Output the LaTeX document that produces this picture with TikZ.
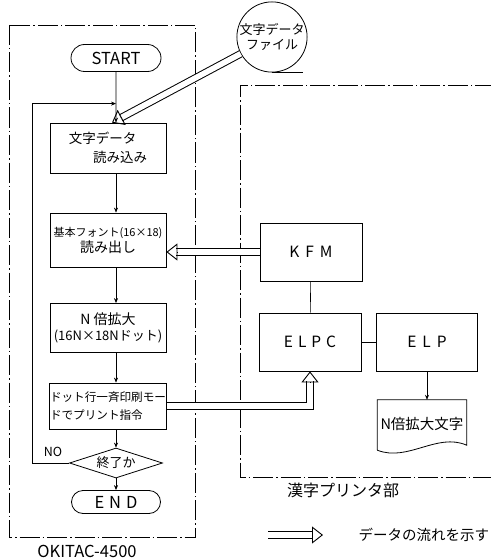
\documentclass[tikz,border=0pt]{standalone}
\usepackage{fontspec}
\setmainfont{Noto Sans CJK JP}
\usetikzlibrary{arrows.meta,positioning,shapes.geometric,shapes.misc,calc}

\begin{document}
\begin{tikzpicture}[x=1pt,y=-1pt,
  font=\fontsize{12.5}{16}\selectfont,
  proc/.style={draw,line width=0.8pt,minimum width=116pt,inner sep=2pt},
  unit/.style={draw,line width=0.8pt,minimum width=102pt,minimum height=58pt,
    font=\fontsize{15.5}{18}\selectfont},
  term/.style={draw,line width=0.8pt,rounded rectangle,inner sep=2pt,
    font=\fontsize{16.5}{18}\selectfont},
  frame/.style={line width=0.6pt,dash pattern=on 20pt off 3pt on 1.5pt off 3pt},
  arr/.style={-{Stealth[length=5pt,width=4pt]},line width=0.6pt},
  conn/.style={line width=0.6pt},
  flow/.style={line width=7.6pt,shorten >=10pt,
    postaction={draw=white,line width=5.6pt,shorten >=10pt}},
  head/.style={-{Triangle[open,length=11pt,width=17pt]},line width=0.9pt}
]
\useasboundingbox (0,0) rectangle (490,559);
% frames
\draw[frame] (9,25) rectangle (195,537);
\draw[frame] (495,85) -- (240,85) -- (240,477) -- (495,477);
\node (okitac) at (87,551) {\fontsize{16.5}{18}\selectfont OKITAC-4500};
\node (kanji) at (343,490) {\fontsize{16}{18}\selectfont 漢字プリンタ部};
% flowchart
\node[term,minimum width=94pt,minimum height=27pt] (start) at (116,58) {START};
\node[proc,minimum height=50pt,align=left,font=\fontsize{13.5}{19}\selectfont] (b1) at (108,148)
  {文字データ\\\hspace{1.8em}読み込み};
\node[proc,minimum height=54pt,align=center] (b2) at (108,240)
  {\fontsize{11}{18}\selectfont 基本フォント(16×18)\\\fontsize{14}{18}\selectfont 読み出し};
\node[proc,minimum height=49pt,align=center] (b3) at (108,328)
  {\fontsize{14}{18}\selectfont N 倍拡大\\\fontsize{13}{18}\selectfont(16N×18Nドット)};
\node[proc,minimum height=46pt,align=left,inner sep=0.5pt,
  font=\fontsize{11.6}{18}\selectfont] (b4) at (108,406)
  {ドット行一斉印刷モー\\ドでプリント指令};
\node[draw,diamond,line width=0.8pt,minimum width=93pt,minimum height=30pt,
  inner sep=0pt,aspect=3,font=\fontsize{13}{16}\selectfont] (dec) at (116,463) {終了か};
\node[term,minimum width=93pt,minimum height=23pt] (end) at (116,502) {E\hspace{5pt}N\hspace{5pt}D};
\node (no) at (53,452) {NO};
\draw[arr] (start) -- (start |- b1.north);
\draw[arr] (b1.south -| start) -- (b2.north -| start);
\draw[arr] (b2.south -| start) -- (b3.north -| start);
\draw[arr] (b3.south -| start) -- (b4.north -| start);
\draw[arr] (b4.south -| start) -- (dec.north);
\draw[arr] (dec.south) -- (end.north);
\draw[arr] (dec.west) -- ++(-37,0) |- ($(b1.north -| start)+(0,-19)$);
% data file
\node[draw,circle,line width=0.8pt,minimum size=70pt,inner sep=0pt,align=center,
  font=\fontsize{13}{15}\selectfont] (file) at (272,37) {文字データ\\ファイル};
\draw[line width=0.8pt] (file.south) -- ++(31,0);
\coordinate (fin1) at ([xshift=4pt]b1.north);
\draw[flow] (file) -- (fin1);
\draw[head] ($(fin1)!11pt!(file)$) -- (fin1);
% printer
\node[unit] (kfm) at (311,252) {K\hspace{6pt}F\hspace{6pt}M};
\node[unit] (elpc) at (310,342) {E\hspace{5pt}L\hspace{5pt}P\hspace{5pt}C};
\node[unit,minimum width=101pt] (elp) at (427,342) {E\hspace{6pt}L\hspace{6pt}P};
\draw[conn] (kfm) -- (elpc);
\draw[conn] (elpc) -- (elp);
\coordinate (fin2) at (kfm.west -| b2.east);
\draw[flow] (kfm.west) -- (fin2);
\draw[head] ($(fin2)!11pt!(kfm.west)$) -- (fin2);
\coordinate (bend) at (elpc.south |- b4.east);
\draw[flow] (b4.east) -- (bend) -- (elpc.south);
\draw[head] ($(elpc.south)!11pt!(bend)$) -- (elpc.south);
\node[minimum width=89pt,minimum height=48pt,inner sep=0pt,
  font=\fontsize{14.5}{16}\selectfont] (doc) at (422,424) {N倍拡大文字};
\draw[line width=0.8pt] ($(doc.south west)+(0,2)$) -- (doc.north west) -- (doc.north east)
  -- ($(doc.south east)+(0,-3)$) .. controls ($(doc.south)+(15,-16)$) and ($(doc.south)+(-14,14)$)
  .. ($(doc.south west)+(0,2)$);
\draw[arr] (elp) -- (elp |- doc.north);
% legend
\coordinate (lega) at (268,535);
\coordinate (legb) at (323,535);
\draw[flow] (lega) -- (legb);
\draw[head] ($(legb)!11pt!(lega)$) -- (legb);
\node[anchor=west] (legtext) at (355,535) {\fontsize{14.5}{16}\selectfont データの流れを示す};
\end{tikzpicture}
\end{document}
